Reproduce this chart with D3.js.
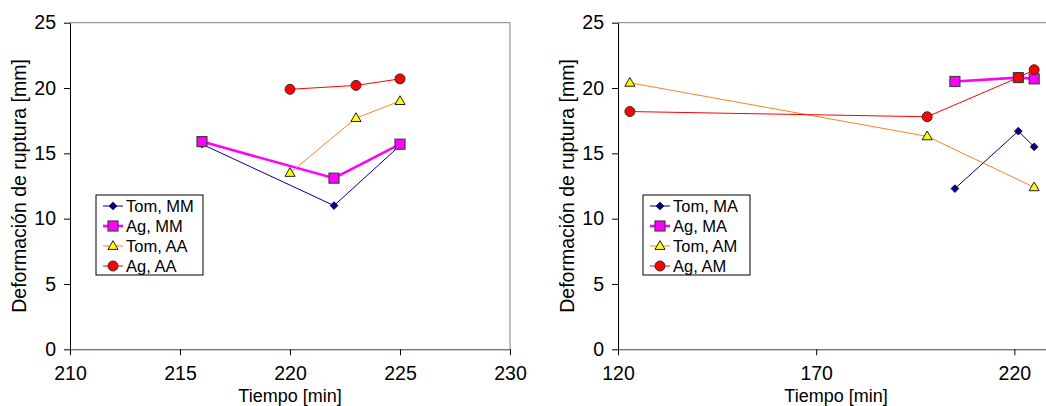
<!DOCTYPE html>
<html>
<head>
<meta charset="utf-8">
<script src="https://cdn.jsdelivr.net/npm/d3@7"></script>
<style>
  body { margin: 0; background: #fff; }
  svg { display: block; font-family: "Liberation Sans", Arial, sans-serif; }
</style>
</head>
<body>
<svg id="chart" width="1046" height="406"></svg>
<script>
// Left panel: MM / AA
var tomMM = [[216, 15.7], [222, 11.0], [225, 15.6]];
var agMM = [[216, 15.9], [222, 13.1], [225, 15.7]];
var tomAA = [[220, 13.5], [223, 17.7], [225, 19.0]];
var agAA = [[220, 19.9], [223, 20.2], [225, 20.7]];
var leftNames = ["Tom, MM", "Ag, MM", "Tom, AA", "Ag, AA"];
var leftTicks = [210, 215, 220, 225, 230];

// Right panel: MA / AM
var tomMA = [[205, 12.3], [221, 16.7], [225, 15.5]];
var agMA = [[205, 20.5], [221, 20.8], [225, 20.7]];
var tomAM = [[123, 20.4], [198, 16.3], [225, 12.4]];
var agAM = [[123, 18.2], [198, 17.8], [221, 20.8], [225, 21.4]];
var rightNames = ["Tom, MA", "Ag, MA", "Tom, AM", "Ag, AM"];
var rightTicks = [120, 170, 220];

var yTicks = [0, 5, 10, 15, 20, 25];

// series styles: diamond navy, square magenta, triangle yellow, circle red
var styles = [
  { line: "#000080", width: 1,   shape: "diamond",  fill: "#000080", stroke: "#000040" },
  { line: "#FF00FF", width: 2.6, shape: "square",   fill: "#FF00FF", stroke: "#404040" },
  { line: "#FF7F27", width: 1,   shape: "triangle", fill: "#FFFF00", stroke: "#202020" },
  { line: "#FF0000", width: 1,   shape: "circle",   fill: "#FF0000", stroke: "#303030" }
];

var svg = d3.select("#chart");

function marker(g, shape, x, y, st) {
  if (shape == "diamond") {
    g.append("path").attr("d", d3.symbol(d3.symbolSquare, 30)())
      .attr("transform", "translate(" + x + "," + y + ") rotate(45)")
      .attr("fill", st.fill).attr("stroke", st.stroke).attr("stroke-width", 0.8);
  } else if (shape == "square") {
    g.append("rect").attr("x", x - 5).attr("y", y - 5).attr("width", 10).attr("height", 10)
      .attr("fill", st.fill).attr("stroke", st.stroke).attr("stroke-width", 1.2);
  } else if (shape == "triangle") {
    g.append("path").attr("d", d3.symbol(d3.symbolTriangle, 44)())
      .attr("transform", "translate(" + x + "," + (y + 0.5) + ")")
      .attr("fill", st.fill).attr("stroke", st.stroke).attr("stroke-width", 1);
  } else {
    g.append("circle").attr("cx", x).attr("cy", y).attr("r", 5)
      .attr("fill", st.fill).attr("stroke", st.stroke).attr("stroke-width", 1);
  }
}

function drawPanel(opt) {
  var x = d3.scaleLinear().domain(opt.xDomain).range([opt.left, opt.right]);
  var y = d3.scaleLinear().domain([0, 25]).range([349.3, 22.7]);
  var g = svg.append("g");

  // plot area border (grey top and right)
  g.append("line").attr("x1", opt.left).attr("x2", opt.right)
    .attr("y1", y(25)).attr("y2", y(25)).attr("stroke", "#808080");
  g.append("line").attr("x1", opt.right).attr("x2", opt.right)
    .attr("y1", y(25)).attr("y2", y(0)).attr("stroke", "#808080");

  var yAxis = g.append("g").attr("transform", "translate(" + opt.left + ",0)")
    .call(d3.axisLeft(y).tickValues(yTicks).tickSize(6).tickPadding(8).tickSizeOuter(0));
  var xAxis = g.append("g").attr("transform", "translate(0," + y(0) + ")")
    .call(d3.axisBottom(x).tickValues(opt.ticks).tickSize(6).tickPadding(11).tickSizeOuter(0));
  [yAxis, xAxis].forEach(function(a) {
    a.select(".domain").attr("stroke", "#000");
    a.selectAll(".tick line").attr("stroke", "#000");
    a.selectAll("text").attr("font-size", 19.5).attr("fill", "#000")
      .attr("font-family", "Liberation Sans, Arial, sans-serif");
  });
  xAxis.select(".domain").attr("stroke", "#404040");

  // axis titles
  g.append("text").attr("x", (opt.left + opt.right) / 2).attr("y", 401.5)
    .attr("text-anchor", "middle").attr("font-size", 18).text("Tiempo [min]");
  g.append("text")
    .attr("transform", "translate(" + (opt.left - 44) + "," + ((y(0) + y(25)) / 2) + ") rotate(-90)")
    .attr("text-anchor", "middle").attr("font-size", 19.5).text("Deformación de ruptura [mm]");

  var line = d3.line().x(function(d) { return x(d[0]); }).y(function(d) { return y(d[1]); });

  opt.series.forEach(function(s, i) {
    var st = styles[i];
    g.append("path").datum(s).attr("d", line).attr("fill", "none")
      .attr("stroke", st.line).attr("stroke-width", st.width);
  });
  opt.series.forEach(function(s, i) {
    s.forEach(function(d) { marker(g, styles[i].shape, x(d[0]), y(d[1]), styles[i]); });
  });

  // legend
  var lx = opt.legendX, ly = 195;
  var leg = g.append("g");
  leg.append("rect").attr("x", lx).attr("y", ly).attr("width", 107).attr("height", 80)
    .attr("fill", "#fff").attr("stroke", "#000").attr("stroke-width", 1);
  opt.names.forEach(function(n, i) {
    var cy = ly + 11 + i * 20;
    var st = styles[i];
    leg.append("line").attr("x1", lx + 7).attr("x2", lx + 27).attr("y1", cy).attr("y2", cy)
      .attr("stroke", st.line).attr("stroke-width", st.width);
    marker(leg, st.shape, lx + 17, cy, st);
    leg.append("text").attr("x", lx + 30).attr("y", cy + 6).attr("font-size", 16.5).text(n);
  });
}

drawPanel({ xDomain: [210, 230], left: 70, right: 510, ticks: leftTicks,
  series: [tomMM, agMM, tomAA, agAA], names: leftNames, legendX: 96 });
drawPanel({ xDomain: [120, 230], left: 618, right: 1054, ticks: rightTicks,
  series: [tomMA, agMA, tomAM, agAM], names: rightNames, legendX: 643 });
</script>
</body>
</html>
